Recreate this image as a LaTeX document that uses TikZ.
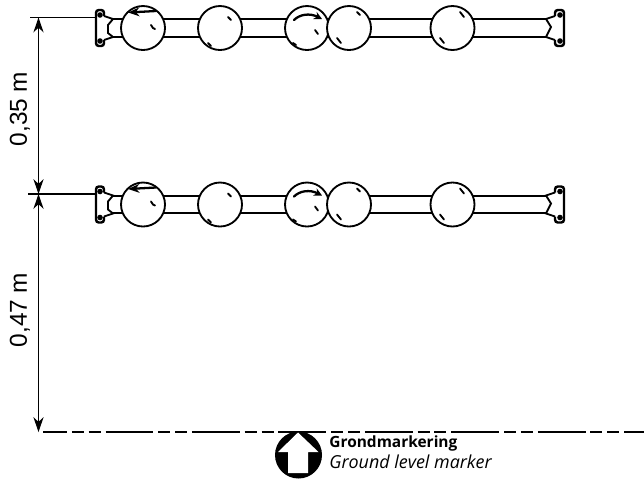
\documentclass[tikz,border=0pt]{standalone}
\usepackage{fontspec}
\setmainfont{Open Sans}
\newfontfamily\dimfont{Liberation Sans}
\usetikzlibrary{arrows.meta}
\tikzset{
	tube/.style={black, line width=1.05pt},
	plate/.style={black, line width=1.4pt, rounded corners=1.6pt},
	ball/.style={black, line width=1.05pt, fill=white},
	tick/.style={black, line width=1.05pt, line cap=round},
	dim/.style={black, line width=0.6pt, {Stealth[length=8.5pt,width=5.8pt]}-{Stealth[length=8.5pt,width=5.8pt]}},
	extline/.style={black, line width=0.6pt},
	dimlabel/.style={rotate=90, font=\fontsize{13.9}{15}\dimfont},
}
\begin{document}
\begin{tikzpicture}[x=0.02cm, y=-0.02cm]
	\useasboundingbox (0,0) rectangle (644,481);

	% the two rails
	\foreach \rowy in {28,204.5} {
	\begin{scope}[shift={(0,\rowy)}]
		\draw[tube] (113,-8.7) -- (546,-8.7);
		\draw[tube] (113,8.7) -- (546,8.7);
		\foreach \bx in {143,220,307,349,452.5}
			\draw[ball] (\bx,0) circle [radius=22];

		% left bracket
		\draw[plate] (104,-12) -- (104,-18) -- (96,-18) -- (96,18) -- (104,18) -- (104,12);
		\draw[tube] (104,-12) -- (113,-9) -- (108,-3) -- (108,5) -- (113,9) -- (104,12);
		\fill (100,-13) circle [radius=2.8];
		\fill (100,13) circle [radius=2.8];

		% right bracket
		\draw[plate] (555,-12) -- (555,-18) -- (564,-18) -- (564,18) -- (555,18) -- (555,12);
		\draw[tube] (555,-12) -- (546,-9) -- (551,-1) -- (546,9) -- (555,12);
		\fill (560,-13) circle [radius=2.8];
		\fill (560,13) circle [radius=2.8];

		% arrows on the balls
		\draw[tick, line width=1.3pt, -{Stealth[length=6.5pt,width=5pt,open]}] (156,-17) -- (128,-15.5);
		\draw[tick, line width=1.3pt, -{Stealth[length=4.5pt,width=4.5pt]}] (294,-8) .. controls (300,-14) and (310,-15) .. (322,-9);

		% highlights
		\draw[tick] (151,-3) -- (153,0) -- (155,1);
		\draw[tick] (228,-11) -- (231,-8);
		\draw[tick] (208,15) -- (211,18);
		\draw[tick] (315,2) -- (318,6);
		\draw[tick] (293,15) -- (296,17);
		\draw[tick] (357,-16) -- (360,-13);
		\draw[tick] (337,10) -- (341,15);
		\draw[tick] (460,-16) -- (464,-11);
		\draw[tick] (440,10) -- (444,15);
	\end{scope}
	}

	% dimensions
	\coordinate (top) at (38.5,17.5);
	\coordinate (mid) at (38.5,194);
	\coordinate (low) at (38.5,432);
	\draw[extline] (30,17.5) -- (96,17.5);
	\draw[extline] (28,194) -- (96,194);
	\draw[dim] (top) -- (mid);
	\draw[dim] (mid) -- (low);
	\node[dimlabel] (h1) at (20,109) {0,35 m};
	\node[dimlabel] (h2) at (20,310) {0,47 m};

	% ground level
	\draw[black, line width=1pt, dash pattern=on 27.2pt off 2.8pt on 6.8pt off 2.8pt on 6.8pt off 2.8pt, dash phase=13.6pt] (43,432) -- (644,432);
	\fill[black] (298.5,455) circle [radius=23.5];
	\fill[white] (298,432.5) -- (318.5,452) -- (308,452) -- (308,473) -- (288,473) -- (288,452) -- (278,452) -- cycle;
	\node[anchor=west, font=\fontsize{8.8}{10}\selectfont\bfseries, inner sep=0pt] (nl) at (329,443) {Grondmarkering};
	\node[anchor=west, font=\fontsize{10.2}{11}\selectfont\itshape, inner sep=0pt] (en) at (329,462) {Ground level marker};
\end{tikzpicture}
\end{document}
